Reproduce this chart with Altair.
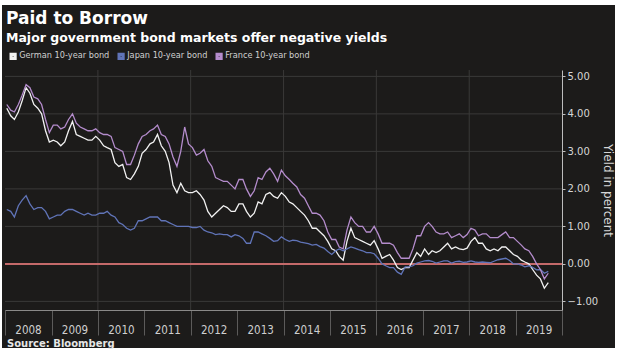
import altair as alt
import pandas as pd

# ---------------- data ----------------
years = list(range(2008, 2020))

german = [
    4.15, 3.95, 3.85, 4.05, 4.35, 4.70, 4.55, 4.25, 4.15, 4.00, 3.55, 3.25,   # 2008
    3.30, 3.25, 3.15, 3.25, 3.55, 3.80, 3.45, 3.40, 3.35, 3.30, 3.30, 3.40,   # 2009
    3.30, 3.15, 3.10, 3.05, 2.70, 2.60, 2.65, 2.30, 2.25, 2.40, 2.60, 2.95,   # 2010
    3.05, 3.20, 3.25, 3.45, 3.15, 3.00, 2.70, 2.10, 1.90, 2.15, 1.95, 1.90,   # 2011
    1.90, 1.95, 1.85, 1.70, 1.40, 1.25, 1.35, 1.45, 1.55, 1.50, 1.40, 1.40,   # 2012
    1.60, 1.60, 1.40, 1.25, 1.35, 1.65, 1.60, 1.85, 1.90, 1.80, 1.75, 1.90,   # 2013
    1.80, 1.65, 1.60, 1.50, 1.40, 1.30, 1.15, 0.95, 0.95, 0.85, 0.75, 0.60,   # 2014
    0.40, 0.35, 0.20, 0.10, 0.60, 0.95, 0.70, 0.65, 0.60, 0.55, 0.50, 0.62,   # 2015
    0.40, 0.15, 0.20, 0.25, 0.10, -0.10, -0.15, -0.10, -0.10, 0.10, 0.30, 0.20,  # 2016
    0.40, 0.25, 0.35, 0.30, 0.35, 0.45, 0.55, 0.40, 0.45, 0.40, 0.38, 0.42,   # 2017
    0.60, 0.70, 0.55, 0.55, 0.40, 0.35, 0.40, 0.35, 0.45, 0.45, 0.35, 0.25,   # 2018
    0.20, 0.10, 0.05, 0.00, -0.15, -0.30, -0.40, -0.65, -0.50,                # 2019
]

japan = [
    1.45, 1.40, 1.25, 1.55, 1.70, 1.82, 1.60, 1.45, 1.50, 1.50, 1.40, 1.20,
    1.25, 1.30, 1.30, 1.40, 1.45, 1.45, 1.40, 1.35, 1.30, 1.35, 1.30, 1.30,
    1.35, 1.35, 1.40, 1.30, 1.25, 1.10, 1.05, 0.95, 0.90, 0.95, 1.15, 1.15,
    1.20, 1.25, 1.25, 1.25, 1.15, 1.15, 1.10, 1.05, 1.00, 1.00, 1.00, 1.00,
    0.97, 0.97, 1.00, 0.90, 0.85, 0.83, 0.78, 0.80, 0.78, 0.78, 0.72, 0.78,
    0.75, 0.68, 0.55, 0.55, 0.85, 0.85, 0.80, 0.75, 0.68, 0.60, 0.62, 0.72,
    0.65, 0.60, 0.63, 0.62, 0.58, 0.56, 0.54, 0.50, 0.52, 0.46, 0.42, 0.33,
    0.25, 0.35, 0.40, 0.35, 0.40, 0.45, 0.42, 0.38, 0.35, 0.30, 0.30, 0.27,
    0.15, 0.00, -0.05, -0.10, -0.10, -0.22, -0.28, -0.08, -0.08, -0.05, 0.02, 0.05,
    0.08, 0.09, 0.07, 0.02, 0.05, 0.08, 0.08, 0.02, 0.06, 0.07, 0.04, 0.05,
    0.08, 0.05, 0.04, 0.05, 0.04, 0.03, 0.07, 0.11, 0.13, 0.15, 0.09, 0.00,
    0.00, -0.03, -0.08, -0.05, -0.09, -0.16, -0.15, -0.25, -0.20,
]

france = [
    4.25, 4.10, 4.05, 4.25, 4.50, 4.78, 4.70, 4.45, 4.40, 4.25, 3.85, 3.50,
    3.70, 3.70, 3.60, 3.65, 3.85, 4.00, 3.75, 3.65, 3.60, 3.55, 3.55, 3.60,
    3.50, 3.45, 3.45, 3.40, 3.10, 3.05, 3.00, 2.65, 2.65, 2.90, 3.20, 3.40,
    3.45, 3.55, 3.60, 3.70, 3.45, 3.40, 3.20, 2.85, 2.60, 3.00, 3.65, 3.20,
    3.10, 2.90, 2.95, 3.05, 2.75, 2.60, 2.30, 2.25, 2.20, 2.20, 2.10, 2.00,
    2.25, 2.25, 2.00, 1.80, 1.95, 2.30, 2.25, 2.45, 2.55, 2.40, 2.20, 2.50,
    2.35, 2.25, 2.15, 2.05, 1.85, 1.75, 1.55, 1.35, 1.35, 1.30, 1.15, 0.85,
    0.65, 0.65, 0.45, 0.40, 0.90, 1.25, 1.10, 1.00, 1.00, 0.85, 0.85, 1.00,
    0.80, 0.55, 0.55, 0.55, 0.50, 0.30, 0.15, 0.15, 0.15, 0.40, 0.75, 0.75,
    1.00, 1.10, 1.00, 0.85, 0.80, 0.80, 0.85, 0.70, 0.75, 0.80, 0.70, 0.78,
    0.95, 0.90, 0.75, 0.80, 0.80, 0.70, 0.70, 0.70, 0.78, 0.85, 0.70, 0.70,
    0.60, 0.50, 0.40, 0.35, 0.20, 0.00, -0.15, -0.40, -0.25,
]

series_names = ["German 10-year bond", "Japan 10-year bond", "France 10-year bond"]
series_colors = ["#f2f2f2", "#6074b8", "#b48ccc"]

y_ticks = [-1, 0, 1, 2, 3, 4, 5]
grid_years = [2010, 2012, 2014, 2016, 2018]

# ---------------- tables ----------------
dates = pd.date_range("2008-01-01", periods=len(german), freq="MS") + pd.Timedelta(days=14)
rows = []
for name, vals in zip(series_names, [german, japan, france]):
    for d, v in zip(dates, vals):
        rows.append({"date": d, "series": name, "yield": v})
df = pd.DataFrame(rows)

grid_y_df = pd.DataFrame({"yield": [t for t in y_ticks if t != 0]})
grid_x_df = pd.DataFrame({"date": [pd.Timestamp(f"{y}-01-01") for y in grid_years]})
zero_df = pd.DataFrame({"yield": [0]})
tick_dates = [pd.Timestamp(f"{y}-01-01") for y in years + [2020]]

BG = "#1c1b1a"
GRID = "#3a3938"
FONT = "DejaVu Sans"
NARROW = "DejaVu Sans Condensed, Liberation Sans Narrow, Roboto Condensed, DejaVu Sans"

xscale = alt.Scale(domain=[pd.Timestamp("2008-01-01").isoformat(), pd.Timestamp("2020-01-01").isoformat()])
yscale = alt.Scale(domain=[-1.23, 5.17], nice=False, zero=False)

xaxis = alt.Axis(
    values=[t.isoformat() for t in tick_dates],
    labelExpr="year(datum.value) == 2020 ? '' : timeFormat(datum.value, '%Y')",
    labelOffset=23,
    labelAlign="center",
    labelBaseline="top",
    labelPadding=-11,
    labelFont=NARROW,
    labelFontSize=11.5,
    labelColor="#cfcfcf",
    tickSize=25,
    tickColor="#5c5b5a",
    tickWidth=1,
    domainColor="#8a8988",
    domainWidth=1,
    grid=False,
    zindex=1,
)
yaxis = alt.Axis(
    orient="right",
    values=y_ticks,
    format=".2f",
    labelFont=FONT,
    labelFontSize=10,
    labelColor="#d6d6d6",
    labelPadding=2,
    tickSize=3,
    tickColor="#bdbdbd",
    domainColor="#bdbdbd",
    grid=False,
    titleFont=FONT,
    titleFontSize=12,
    titleFontWeight="normal",
    titleColor="#d6d6d6",
    titlePadding=3,
    zindex=1,
)
YT = "Yield in percent"

# background panel (decoration)
panel = alt.Chart(pd.DataFrame({"a": [0]})).mark_rect(color=BG).encode(
    x=alt.value(-3), x2=alt.value(610), y=alt.value(-65), y2=alt.value(278)
)

grid_h = alt.Chart(grid_y_df).mark_rule(color=GRID, strokeWidth=1).encode(
    y=alt.Y("yield:Q", scale=yscale, title=YT, axis=yaxis)
)
grid_v = alt.Chart(grid_x_df).mark_rule(color=GRID, strokeWidth=1).encode(
    x=alt.X("date:T", scale=xscale, title=None, axis=xaxis)
)
zero = alt.Chart(zero_df).mark_rule(color="#c46a6a", strokeWidth=2).encode(
    y=alt.Y("yield:Q", scale=yscale, title=YT, axis=yaxis)
)

lines = alt.Chart(df).mark_line(strokeWidth=1.3).encode(
    x=alt.X("date:T", scale=xscale, title=None, axis=xaxis),
    y=alt.Y("yield:Q", scale=yscale, title=YT, axis=yaxis),
    color=alt.Color(
        "series:N",
        scale=alt.Scale(domain=series_names, range=series_colors),
        legend=alt.Legend(
            title=None,
            orient="none",
            legendX=4,
            legendY=-18,
            direction="horizontal",
            symbolType="square",
            symbolSize=16,
            symbolStrokeWidth=3.2,
            labelFont=FONT,
            labelFontSize=8.2,
            labelColor="#d0d0d0",
            labelOffset=2,
            columnPadding=2,
        ),
    ),
)

source = alt.Chart(pd.DataFrame({"t": ["Source: Bloomberg"]})).mark_text(
    align="left", baseline="alphabetic", font=FONT, fontSize=10, fontWeight="bold", color="#e6e6e6"
).encode(x=alt.value(2), y=alt.value(277), text="t:N")

chart = alt.layer(panel, grid_h, grid_v, zero, lines, source).properties(
    width=557,
    height=240,
    padding={"left": 5, "top": 70, "right": 58, "bottom": 45},
    autosize=alt.AutoSizeParams(type="none"),
    title=alt.TitleParams(
        text="Paid to Borrow",
        subtitle="Major government bond markets offer negative yields",
        anchor="start",
        frame="group",
        font=FONT,
        fontSize=17,
        fontWeight="bold",
        color="#ffffff",
        subtitleFont=FONT,
        subtitleFontSize=12.5,
        subtitleFontWeight="bold",
        subtitleColor="#ffffff",
        subtitlePadding=4,
        offset=-40,
        dx=1,
    ),
).configure(background="#ffffff").configure_view(stroke=None)

chart.save("out.html", embed_options={"renderer": "svg", "actions": False})
